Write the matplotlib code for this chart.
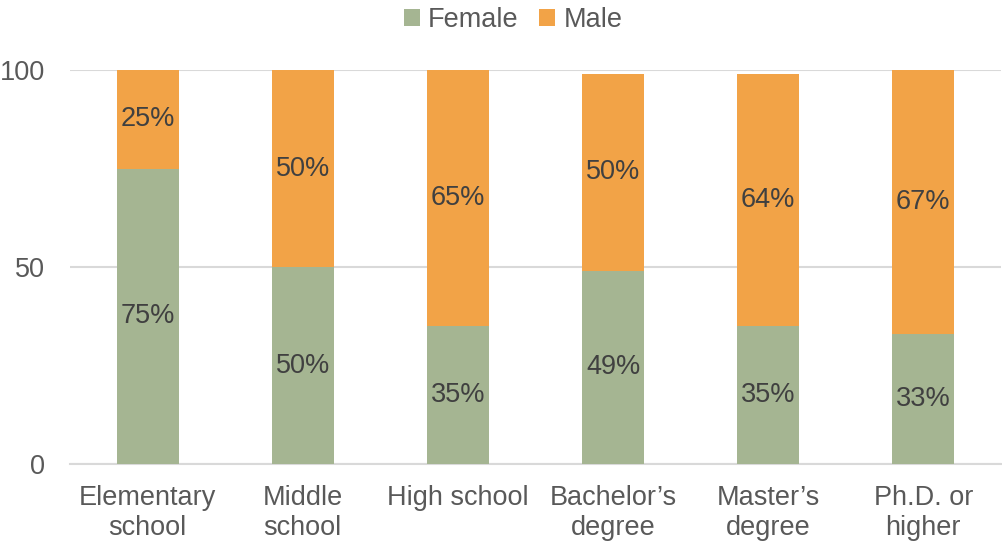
import matplotlib.pyplot as plt

plt.rcParams['font.family'] = ['Liberation Sans', 'DejaVu Sans']

categories = ['Elementary\nschool', 'Middle\nschool', 'High school',
              'Bachelor\u2019s\ndegree', 'Master\u2019s\ndegree', 'Ph.D. or\nhigher']
female = [75, 50, 35, 49, 35, 33]
male = [25, 50, 65, 50, 64, 67]

green = '#a5b592'
orange = '#f2a347'
fs = 19.5

fig = plt.figure(figsize=(10.02, 5.42), dpi=100)
ax = fig.add_axes([0.0699, 0.1439, 0.929, 0.7269])

x = range(len(categories))
b1 = ax.bar(x, female, width=0.4, color=green, label='Female', zorder=3)
b2 = ax.bar(x, male, width=0.4, bottom=female, color=orange, label='Male', zorder=3)

for i in x:
    ax.text(i, female[i] / 2, f'{female[i]}%', ha='center', va='center',
            fontsize=fs, color='#404040', zorder=4)
    ax.text(i, female[i] + male[i] / 2, f'{male[i]}%', ha='center', va='center',
            fontsize=fs, color='#404040', zorder=4)

ax.set_xlim(-0.5, len(categories) - 0.5)
ax.set_ylim(0, 100)
ax.set_yticks([0, 50, 100])
ax.set_xticks(list(x))
ax.set_xticklabels(categories, linespacing=1.2)
ax.yaxis.grid(True, color='#d9d9d9', linewidth=1.5, zorder=0)
ax.tick_params(axis='both', length=0, labelsize=fs, labelcolor='#595959')
ax.tick_params(axis='y', pad=18)
ax.tick_params(axis='x', pad=15)
for s in ['top', 'right', 'left']:
    ax.spines[s].set_visible(False)
ax.spines['bottom'].set_color('#d9d9d9')
ax.spines['bottom'].set_linewidth(1.5)

leg = fig.legend(handles=[b1, b2], loc='upper center', bbox_to_anchor=(0.512, 1.032),
                 ncol=2, frameon=False, fontsize=fs, handlelength=0.6,
                 handleheight=0.6, handletextpad=0.3, columnspacing=0.75)
for t in leg.get_texts():
    t.set_color('#595959')

fig.savefig('out.png')
